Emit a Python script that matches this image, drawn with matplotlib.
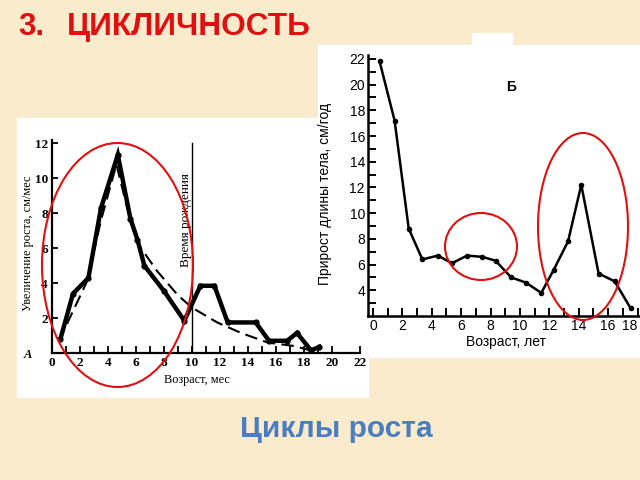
import matplotlib
matplotlib.use("Agg")
import matplotlib.pyplot as plt
from matplotlib.patches import Rectangle, Ellipse

W, H = 640, 480

# График А: увеличение роста, см/мес (возраст, мес)
mes_x = [0.6, 1.5, 2.6, 3.5, 4.7, 5.6, 6.1, 6.6, 8.0, 9.45, 10.6, 11.6, 12.55, 14.55, 15.5, 16.8, 17.5, 18.5, 19.1]
mes_y = [0.8, 3.4, 4.3, 8.3, 11.35, 7.7, 6.5, 5.0, 3.55, 1.85, 3.85, 3.85, 1.75, 1.75, 0.7, 0.7, 1.15, 0.15, 0.35]
trend_x = [0.5, 1.5, 2.5, 3.5, 4.6, 5.5, 6.1, 7.5, 9.0, 10.0, 11.8, 13.5, 15.4, 17.3, 18.7]
trend_y = [0.7, 2.4, 4.1, 7.6, 10.8, 7.9, 6.3, 4.7, 3.3, 2.6, 1.75, 1.15, 0.6, 0.4, 0.1]
birth_mes = 10

# График Б: прирост длины тела, см/год (возраст, лет)
god_x = [0.45, 1.47, 2.43, 3.36, 4.42, 5.37, 6.4, 7.44, 8.34, 9.4, 10.4, 11.45, 12.3, 13.27, 14.17, 15.35, 16.44, 17.53]
god_y = [21.8, 17.2, 8.8, 6.4, 6.7, 6.1, 6.7, 6.6, 6.3, 5.0, 4.6, 3.8, 5.6, 7.8, 12.2, 5.3, 4.7, 2.6]

BG = "#fbebcd"
RED = "#e01010"
BLUE = "#4a7ec0"
SERIF = "Liberation Serif"
SANS = "Liberation Sans"


def box(x0, y0, x1, y1):
    # пиксели -> доли фигуры
    return [x0 / W, 1 - y1 / H, (x1 - x0) / W, (y1 - y0) / H]


fig = plt.figure(figsize=(6.4, 4.8), dpi=100, facecolor=BG)

# фон слайда с белыми вставками
bg = fig.add_axes([0, 0, 1, 1], zorder=-5)
bg.set_xlim(0, W)
bg.set_ylim(H, 0)
bg.axis("off")
bg.add_patch(Rectangle((17, 118), 351, 279, color="white"))
bg.add_patch(Rectangle((318, 45), 322, 312, color="white"))
bg.add_patch(Rectangle((472, 33), 40, 12, color="white"))
bg.text(18, 27, "3.", color=RED, fontsize=22.5, fontweight="bold", family=SANS, va="center")
bg.text(67, 27, "ЦИКЛИЧНОСТЬ", color=RED, fontsize=22.8, fontweight="bold", family=SANS, va="center")
bg.text(336, 429, "Циклы роста", color=BLUE, fontsize=21.5, fontweight="bold", family=SANS,
        ha="center", va="center")

# ---- график А ----
axA = fig.add_axes(box(52, 140, 360, 353))
axA.set_facecolor("none")
axA.plot(mes_x, mes_y, color="black", lw=3.2, marker="o", ms=3.5, solid_joinstyle="miter")
axA.plot(trend_x, trend_y, color="black", lw=1.5, ls=(0, (6, 3)))
axA.axvline(birth_mes, ymin=0, ymax=12 / 12.2, color="black", lw=1)
axA.set_xlim(0, 22)
axA.set_ylim(0, 12.2)
axA.set_xticks(range(0, 23, 2))
axA.set_xticks(range(0, 20), minor=True)
axA.set_yticks(range(2, 13, 2))
for s in ["top", "right"]:
    axA.spines[s].set_visible(False)
for s in ["left", "bottom"]:
    axA.spines[s].set_linewidth(1.6)
axA.tick_params(which="both", direction="in", length=5, width=1.3, pad=3)
axA.tick_params(axis="y", length=4)
for lab in axA.get_xticklabels() + axA.get_yticklabels():
    lab.set_family(SERIF)
    lab.set_fontsize(9.5)
    lab.set_fontweight("bold")
axA.text(9.55, 7.6, "Время рождения", rotation=90, family=SERIF, fontsize=9.5,
         ha="center", va="center")
bg.text(28, 243, "Увеличение роста, см/мес", rotation=90, family=SERIF, fontsize=8.8,
        ha="center", va="center")
bg.text(197, 380, "Возраст, мес", family=SERIF, fontsize=8.8, ha="center", va="center")
bg.text(28, 355, "A", family=SERIF, fontsize=9, fontweight="bold", fontstyle="italic",
        ha="center", va="center")

# ---- график Б ----
axB = fig.add_axes(box(367.7, 55, 640.5, 316))
axB.set_facecolor("none")
axB.plot(god_x, god_y, color="black", lw=1.8, marker="o", ms=3)
axB.set_xlim(-0.36, 18.2)
axB.set_ylim(2, 22.3)
axB.set_xticks(range(0, 19, 2))
axB.set_xticks(range(0, 19), minor=True)
axB.set_yticks(range(4, 23, 2))
axB.set_yticks(range(3, 23), minor=True)
for s in ["top", "right"]:
    axB.spines[s].set_visible(False)
for s in ["left", "bottom"]:
    axB.spines[s].set_linewidth(1.8)
axB.tick_params(which="both", direction="in", length=6, width=1.4, pad=2, labelsize=10)
for lab in axB.get_xticklabels() + axB.get_yticklabels():
    lab.set_family(SANS)
# последняя подпись у самого края: прижать вправо, чтобы не обрезалась
last = axB.get_xticklabels()[-1]
last.set_horizontalalignment("right")
last.set_x(18.15)
axB.text(9.4, 19.8, "Б", family=SANS, fontsize=10, fontweight="bold", ha="center", va="center")
bg.text(325, 194, "Прирост длины тела, см/год", rotation=90, family=SANS, fontsize=10,
        ha="center", va="center")
bg.text(506, 342, "Возраст, лет", family=SANS, fontsize=10, ha="center", va="center")

# красные овалы поверх
top = fig.add_axes([0, 0, 1, 1], zorder=10)
top.set_xlim(0, W)
top.set_ylim(H, 0)
top.axis("off")
top.set_facecolor("none")
for cx, cy, w, h in [(117.5, 265, 151, 244), (481, 246.5, 72, 67), (583, 226.5, 90, 187)]:
    top.add_patch(Ellipse((cx, cy), w, h, fill=False, edgecolor=RED, lw=1.5))

fig.savefig("out.png", dpi=100, facecolor=BG)
